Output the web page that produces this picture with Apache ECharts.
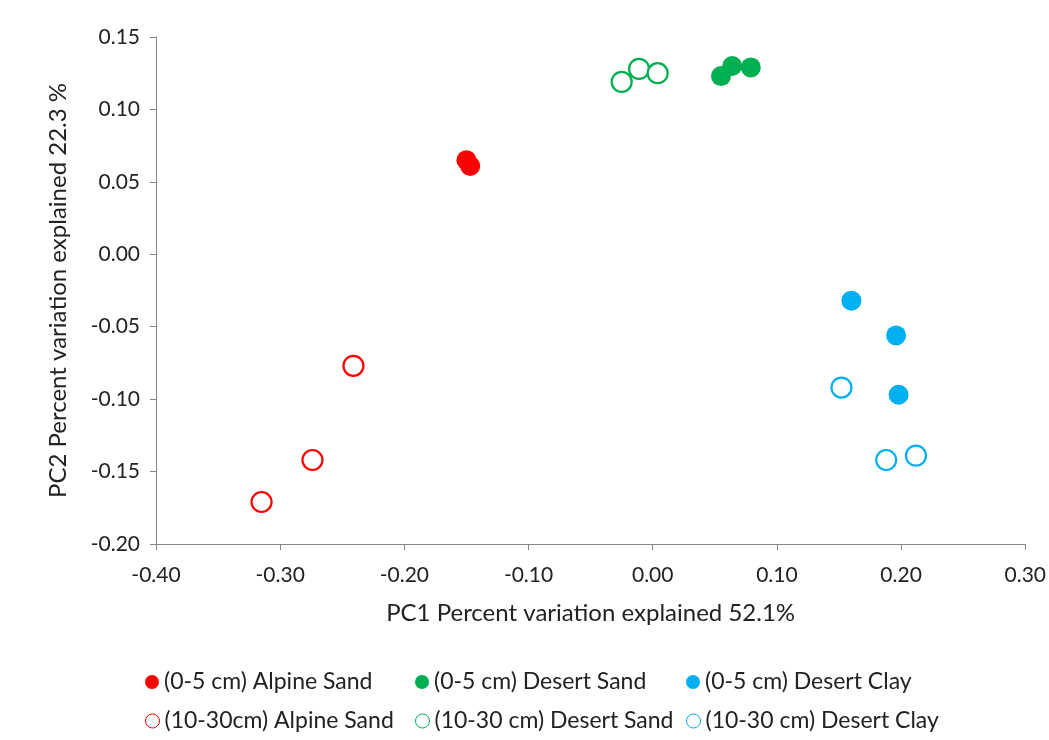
<!DOCTYPE html>
<html><head><meta charset="utf-8">
<script src="https://cdn.jsdelivr.net/npm/echarts@6/dist/echarts.min.js"></script>
<style>html,body{margin:0;padding:0;background:#fff}#c{width:1049px;height:740px}</style>
</head><body><div id="c"></div>
<script>
const seriesNames = ["(0-5 cm) Alpine Sand","(0-5 cm) Desert Sand","(0-5 cm) Desert Clay","(10-30cm) Alpine Sand","(10-30 cm) Desert Sand","(10-30 cm) Desert Clay"];
const alpineSand05 = [[-0.150,0.065],[-0.147,0.061]];
const desertSand05 = [[0.055,0.123],[0.064,0.130],[0.079,0.129]];
const desertClay05 = [[0.160,-0.032],[0.196,-0.056],[0.198,-0.097]];
const alpineSand1030 = [[-0.241,-0.077],[-0.274,-0.142],[-0.315,-0.171]];
const desertSand1030 = [[-0.025,0.119],[-0.011,0.128],[0.004,0.125]];
const desertClay1030 = [[0.152,-0.092],[0.188,-0.142],[0.212,-0.139]];
const xTicks = {min:-0.40,max:0.30,interval:0.10};
const yTicks = {min:-0.20,max:0.15,interval:0.05};
const colors = ["#FF0000","#00B050","#00B0F0"];

const font = "Lato, 'Open Sans', sans-serif";
const data = [alpineSand05,desertSand05,desertClay05,alpineSand1030,desertSand1030,desertClay1030];
const series = data.map((d,i)=>{
  const filled = i<3; const col = colors[i%3];
  return {
    name: seriesNames[i], type:'scatter', data:d,
    symbol:'circle', symbolSize: 20,
    itemStyle: filled?{color:col,opacity:1}:{color:'#fff',borderColor:col,borderWidth:2.2,opacity:1},
    z: filled?3:2
  };
});
const legendPos = [[145,668],[415,668],[686,668],[145,707],[415,707],[686,707]];
const legends = seriesNames.map((n,i)=>({
  data:[{name:n, itemStyle: i<3?{color:colors[i%3],opacity:1}:{color:'#fff',borderColor:colors[i%3],borderWidth:1,opacity:1}}],
  left:legendPos[i][0], top:legendPos[i][1], icon:'circle', itemWidth:14, itemHeight:14, itemGap:0, padding:0,
  textStyle:{fontFamily:font,fontSize:23,color:'#222',lineHeight:28}, selectedMode:false
}));
const chart = echarts.init(document.getElementById('c'));
chart.setOption({
  backgroundColor:'#fff',
  animation:false,
  grid:{left:156,right:22,top:37,bottom:196},
  legend: legends,
  xAxis:{type:'value',min:xTicks.min,max:xTicks.max,interval:xTicks.interval,
    name:'PC1 Percent variation explained 52.1%',nameLocation:'middle',nameGap:57,
    nameTextStyle:{fontFamily:font,fontSize:24,color:'#222'},
    axisLine:{onZero:false,lineStyle:{color:'#868686',width:1}},
    axisTick:{show:true,length:6,lineStyle:{color:'#868686'}},
    splitLine:{show:false},
    axisLabel:{formatter:v=>v.toFixed(2),fontFamily:font,fontSize:21,color:'#222',margin:21}},
  yAxis:{type:'value',min:yTicks.min,max:yTicks.max,interval:yTicks.interval,
    name:'PC2 Percent variation explained 22.3 %',nameLocation:'middle',nameGap:86,
    nameTextStyle:{fontFamily:font,fontSize:24,color:'#222'},
    axisLine:{show:true,onZero:false,lineStyle:{color:'#868686',width:1}},
    axisTick:{show:true,length:6,lineStyle:{color:'#868686'}},
    splitLine:{show:false},
    axisLabel:{formatter:v=>v.toFixed(2),fontFamily:font,fontSize:21,color:'#222',margin:16}},
  series: series
});
</script></body></html>
